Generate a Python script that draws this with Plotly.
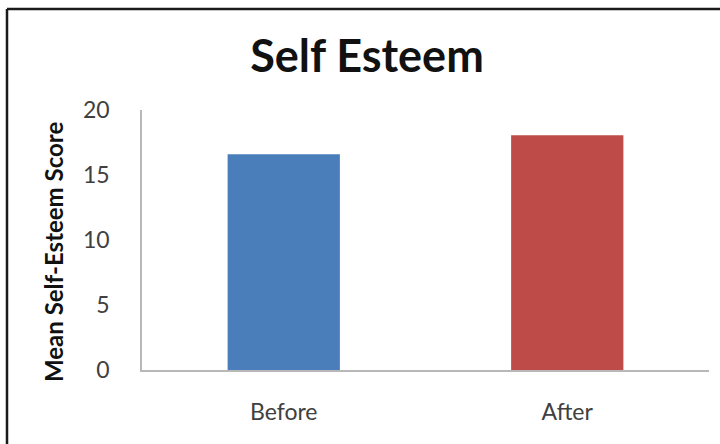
import plotly.graph_objects as go

categories = ["Before", "After"]
values = [16.6, 18.05]
bar_colors = ["#4A7EBB", "#BE4B48"]
y_ticks = [0, 5, 10, 15, 20]

W, H = 720, 444
L, R, T, B = 142, 11, 110, 74
pw, ph = W - L - R, H - T - B

def px(x):
    return (x - L) / pw

def py(y):
    return 1 - (y - T) / ph

fig = go.Figure(go.Bar(
    x=categories, y=values, marker_color=bar_colors,
    marker_line_width=0, width=0.396,
))

fig.update_layout(
    width=W, height=H,
    margin=dict(l=L, r=R, t=T, b=B),
    paper_bgcolor="white", plot_bgcolor="white",
    font=dict(family="Lato", color="#595959"),
    showlegend=False,
    title=dict(text="<b>Self Esteem</b>", x=px(367), xref="paper", xanchor="center",
               y=1 - 56 / H, yanchor="middle",
               font=dict(family="Lato", size=45, color="#111111")),
    xaxis=dict(showgrid=False, showline=True, linecolor="#B8B8B8", linewidth=2,
               ticks="", tickfont=dict(size=23, color="#404040"),
               ticklabelstandoff=20, zeroline=False),
    yaxis=dict(range=[0, 20], tickvals=y_ticks, showgrid=False, showline=True,
               linecolor="#B8B8B8", linewidth=1.5, ticks="", zeroline=False,
               tickfont=dict(size=23, color="#404040"), ticklabelstandoff=26),
    annotations=[
        dict(text="<b>Mean Self-Esteem Score</b>", textangle=-90,
             xref="paper", yref="paper", x=px(53), y=py(252),
             xanchor="center", yanchor="middle", showarrow=False,
             font=dict(family="Lato", size=24, color="#111111")),
    ],
    shapes=[
        dict(type="line", xref="paper", yref="paper", x0=px(7), x1=px(W + 5),
             y0=py(9), y1=py(9), line=dict(color="#1A1A1A", width=2.5)),
        dict(type="line", xref="paper", yref="paper", x0=px(7), x1=px(7),
             y0=py(9), y1=py(H + 5), line=dict(color="#1A1A1A", width=2.5)),
    ],
)

fig.write_html("out.html")
